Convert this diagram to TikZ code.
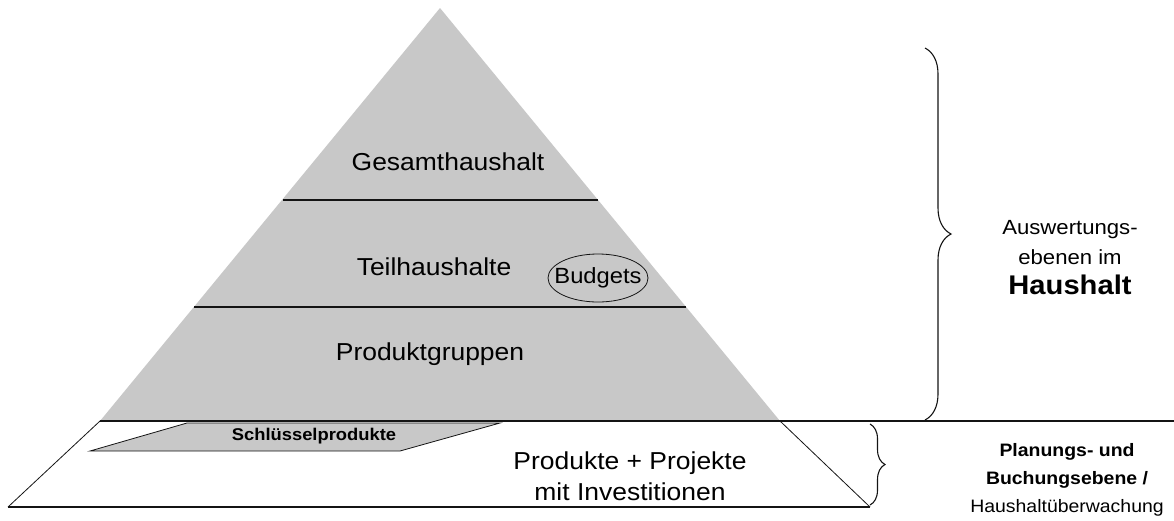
\documentclass[tikz,border=0pt]{standalone}
\usepackage{fontspec}
\setmainfont{Liberation Sans}[FakeStretch=1.08]
\usetikzlibrary{decorations.pathreplacing,shapes.geometric}
\definecolor{pyrgray}{RGB}{200,200,200}
\definecolor{linedark}{RGB}{20,20,20}
\tikzset{
  lvl/.style={font=\fontsize{24.5}{26}\selectfont, inner sep=0pt, anchor=center},
  side/.style={font=\fontsize{20.5}{30}\selectfont, align=center, inner sep=0pt},
  sep/.style={draw=linedark, line width=1.8pt},
  thin/.style={draw=linedark, line width=0.8pt},
  bracestyle/.style={draw=linedark, line width=1.1pt, decorate},
}
\begin{document}
\begin{tikzpicture}[x=1pt,y=-1pt]
\useasboundingbox (0,0) rectangle (1174,520);
% lower white trapezoid
\draw[thin] (100,421) -- (8,507);
\draw[thin] (780,421) -- (870,507);
\draw[draw=linedark, line width=1.3pt] (8,507) -- (870,507);
% gray pyramid
\fill[pyrgray] (440,8) -- (100,421) -- (780,421) -- cycle;
\draw[sep] (283,200) -- (598,200);
\draw[sep] (194,307) -- (686,307);
\draw[sep] (100,421) -- (1174,421);
% Schluesselprodukte parallelogram
\filldraw[fill=pyrgray, draw=linedark, line width=0.8pt] (187,423) -- (500,423) -- (400,451) -- (90,451) -- cycle;
\node[font=\bfseries\fontsize{17}{20}\selectfont, inner sep=0pt] (schl) at (314,436) {Schlüsselprodukte};
% level labels
\node[lvl] (gesamt) at (448,162) {Gesamthaushalt};
\node[lvl] (teil) at (434,267) {Teilhaushalte};
\node[lvl] (prod) at (430,354) {Produktgruppen};
\node[ellipse, draw=linedark, line width=0.8pt, minimum width=100pt, minimum height=48pt, inner sep=0pt] (budgetsring) at (598,278) {};
\node[font=\fontsize{22}{24}\selectfont, inner sep=0pt] (budgets) at (budgetsring.center) {Budgets};
\node[font=\fontsize{24.5}{31}\selectfont, align=center, inner sep=0pt] (produkte) at (630,476) {Produkte + Projekte\\mit Investitionen};
% braces
\coordinate (b1top) at (925,48);
\coordinate (b1bot) at (925,420);
\draw[bracestyle, decoration={brace, amplitude=26pt}] (b1top) -- (b1bot);
\coordinate (b2top) at (870,424);
\coordinate (b2bot) at (870,505);
\draw[bracestyle, decoration={brace, amplitude=15pt}] (b2top) -- (b2bot);
% side texts
\node[side] (ausw) at (1070,258) {Auswertungs-\\ebenen im\\{\bfseries\fontsize{27}{30}\selectfont Haushalt}};
\node[font=\fontsize{18}{28}\selectfont, align=center, inner sep=0pt] (plan) at (1067,480) {{\bfseries Planungs- und}\\{\bfseries Buchungsebene /}\\Haushaltüberwachung};
\end{tikzpicture}
\end{document}
